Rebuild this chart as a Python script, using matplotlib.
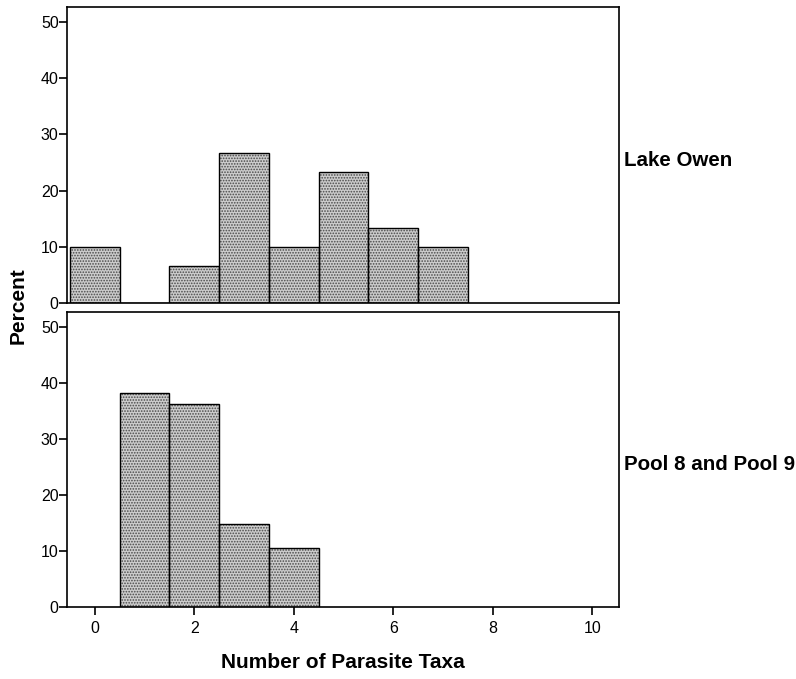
import numpy as np
import matplotlib
matplotlib.use("Agg")
import matplotlib.pyplot as plt

# Percent of hosts by number of parasite taxa, per site
taxa_owen = [0, 1, 2, 3, 4, 5, 6, 7]
pct_owen = [10.0, 0.0, 6.67, 26.67, 10.0, 23.33, 13.33, 10.0]

taxa_pool = [1, 2, 3, 4]
pct_pool = [38.3, 36.2, 14.9, 10.6]

site_names = ["Lake Owen", "Pool 8 and Pool 9"]
xticks = [0, 2, 4, 6, 8, 10]
yticks = [0, 10, 20, 30, 40, 50]

plt.rcParams["font.family"] = ["Liberation Sans", "DejaVu Sans"]
plt.rcParams["hatch.color"] = "#4a4a4a"
plt.rcParams["hatch.linewidth"] = 0.8

fig = plt.figure(figsize=(7.96, 6.79), dpi=100)
ax1 = fig.add_axes([67/796, 1-303/679, 552/796, 296/679])
ax2 = fig.add_axes([67/796, 1-607/679, 552/796, 295/679])

for ax, x, y, name in [(ax1, taxa_owen, pct_owen, site_names[0]),
                       (ax2, taxa_pool, pct_pool, site_names[1])]:
    # hatched fill, then a black outline on top
    ax.bar(x, y, width=1.0, color="#cccccc", edgecolor="#4a4a4a",
           hatch="......", linewidth=0)
    ax.bar(x, y, width=1.0, fill=False, edgecolor="black", linewidth=1.0)
    ax.set_xlim(-0.56, 10.54)
    ax.set_ylim(0, 52.7)
    ax.set_yticks(yticks)
    for s in ax.spines.values():
        s.set_linewidth(1.2)
    ax.tick_params(axis="y", direction="out", length=6, width=1.2,
                   labelsize=11.5, pad=0)
    ax.text(1.009, 0.483, name, transform=ax.transAxes, ha="left",
            va="center", fontsize=14.8, fontweight="bold")

ax1.set_xticks([])
ax2.set_xticks(xticks)
ax2.tick_params(axis="x", direction="out", length=6, width=1.2,
                labelsize=11.5, pad=4)

fig.text(18/796, 1-306/679, "Percent", rotation=90, ha="center",
         va="center", fontsize=15, fontweight="bold")
fig.text(343/796, 1-663/679, "Number of Parasite Taxa", ha="center",
         va="center", fontsize=15, fontweight="bold")

fig.savefig("out.png", dpi=100, facecolor="white")
